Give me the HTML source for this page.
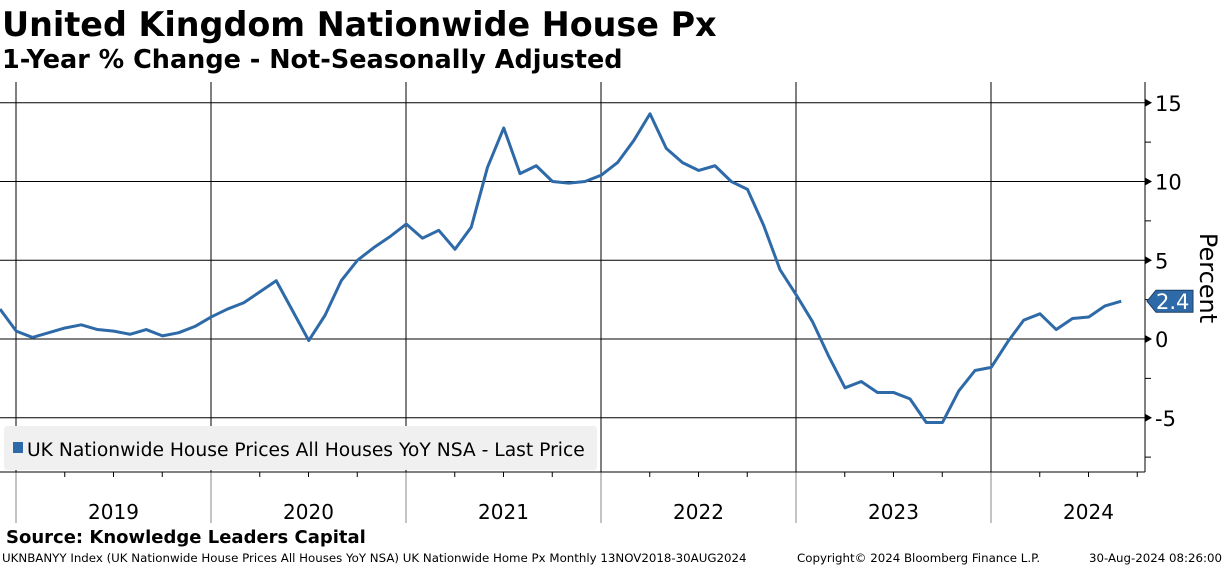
<!DOCTYPE html>
<html><head><meta charset="utf-8"><style>
body{margin:0;width:1224px;height:566px;background:#fff;overflow:hidden;font-family:"DejaVu Sans","Liberation Sans",sans-serif;}
svg{position:absolute;left:0;top:0}
</style></head><body>
<svg width="1224" height="566" xmlns="http://www.w3.org/2000/svg" id="chart">
<text x="2" y="36" font-size="33.4" font-weight="bold" font-family="DejaVu Sans">United Kingdom Nationwide House Px</text>
<text x="2" y="68" font-size="25.5" font-weight="bold" font-family="DejaVu Sans">1-Year % Change - Not-Seasonally Adjusted</text>
<g id="grid"></g>
<g id="axis"></g>
<rect x="4" y="426" width="593" height="44" rx="3" fill="#f0f0f0"/>
<rect x="13" y="442" width="10" height="11" fill="#2e6aa8"/>
<text x="27" y="456" font-size="18.7">UK Nationwide House Prices All Houses YoY NSA - Last Price</text>
<g id="series"></g>
<text x="6" y="543" font-size="18" font-weight="bold">Source: Knowledge Leaders Capital</text>
<text x="2" y="562" font-size="11.8">UKNBANYY Index (UK Nationwide House Prices All Houses YoY NSA) UK Nationwide Home Px  Monthly 13NOV2018-30AUG2024</text>
<text x="797" y="562" font-size="11.8">Copyright© 2024 Bloomberg Finance L.P.</text>
<text x="1222" y="562" font-size="11.8" text-anchor="end">30-Aug-2024 08:26:00</text>
<text transform="translate(1200,278) rotate(90)" font-size="24" text-anchor="middle">Percent</text>
</svg>
<script>
const values=[1.9,0.5,0.1,0.4,0.7,0.9,0.6,0.5,0.3,0.6,0.2,0.4,0.8,1.4,1.9,2.3,3.0,3.7,1.8,-0.1,1.5,3.7,5.0,5.8,6.5,7.3,6.4,6.9,5.7,7.1,10.9,13.4,10.5,11.0,10.0,9.9,10.0,10.4,11.2,12.6,14.3,12.1,11.2,10.7,11.0,10.0,9.5,7.2,4.4,2.8,1.1,-1.1,-3.1,-2.7,-3.4,-3.4,-3.8,-5.3,-5.3,-3.3,-2.0,-1.8,-0.2,1.2,1.6,0.6,1.3,1.4,2.1,2.4];
const years=["2019","2020","2021","2022","2023","2024"];
const yTicks=[15,10,5,0,-5];
(function(){
const NS="http://www.w3.org/2000/svg";
const x=i=>i*16.25; // index 0 = Nov 2018
const y=v=>339-v*15.75;
const plotTop=82,bot=472,axX=1145;
function mk(t,a,p){const e=document.createElementNS(NS,t);for(const k in a)e.setAttribute(k,a[k]);(p||document.getElementById('chart')).appendChild(e);return e;}
const g=document.getElementById('grid'),ax=document.getElementById('axis'),s=document.getElementById('series');
yTicks.forEach(v=>{
 const l=mk('line',{x1:0,x2:axX,y1:y(v),y2:y(v),stroke:'#000','stroke-width':1},g);
 
 
 const t=mk('text',{x:1155,y:y(v)+8,'font-size':21},ax);t.textContent=v;
 
 
 mk('polygon',{points:`${axX},${y(v)-4} ${axX+7},${y(v)} ${axX},${y(v)+4}`,fill:'#000'},ax);
});
[12.5,7.5,2.5,-2.5,-7.5].forEach(v=>mk('line',{x1:axX,x2:axX+6,y1:y(v),y2:y(v),stroke:'#000'},ax));
years.forEach((yr,k)=>{
 const gx=16+k*195;
 const l=mk('line',{x1:gx,x2:gx,y1:plotTop,y2:bot,stroke:'#000'},g);
 
 
 mk('line',{x1:gx,x2:gx,y1:bot,y2:523,stroke:'#888'},g);
 for(let q=1;q<4;q++)mk('line',{x1:gx+q*48.75,x2:gx+q*48.75,y1:bot,y2:bot+5,stroke:'#000'},g);
 const t=mk('text',{x:gx+97.5,y:519,'font-size':20,'text-anchor':'middle'},ax);t.textContent=yr;
 
 
});
mk('line',{x1:0,x2:axX,y1:bot,y2:bot,stroke:'#000'},ax);
mk('line',{x1:axX,x2:axX,y1:plotTop,y2:bot,stroke:'#000'},ax);
const pl=mk('polyline',{points:values.map((v,i)=>x(i)+','+y(v)).join(' '),fill:'none',stroke:'#2e6aa8','stroke-width':3,'stroke-linejoin':'round'},s);


const last=values[values.length-1],ly=y(last);
const tg=mk('polygon',{points:`1147,${ly} 1156,${ly-11} 1193,${ly-11} 1193,${ly+11} 1156,${ly+11}`,fill:'#2e6aa8',stroke:'#1d3f66'},s);


const lt=mk('text',{x:1156,y:ly+8,'font-size':21,fill:'#fff'},s);lt.textContent=last.toFixed(1);


})();
</script>
</body></html>
